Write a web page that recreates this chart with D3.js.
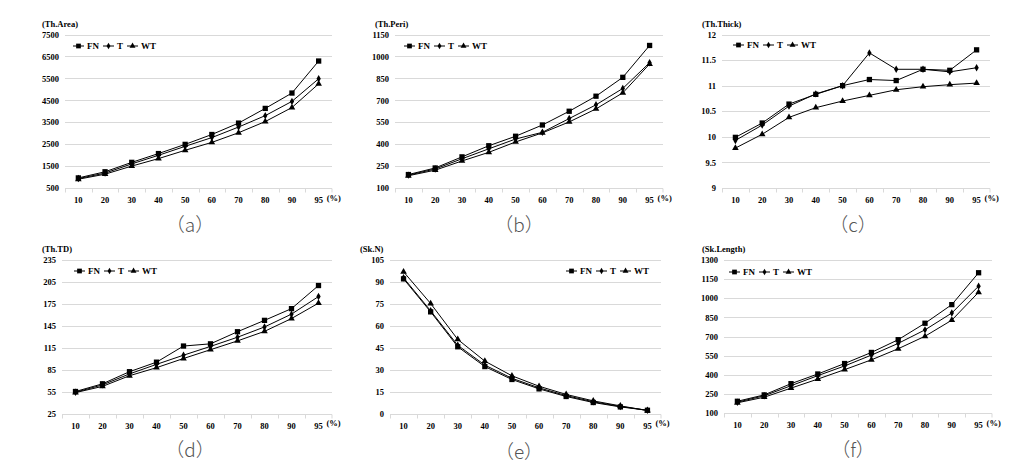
<!DOCTYPE html>
<html>
<head>
<meta charset="utf-8">
<script src="https://cdn.jsdelivr.net/npm/d3@7"></script>
<style>
  html, body { margin: 0; padding: 0; background: #fff; }
  svg { display: block; }
  .tick-label, .ttl, .leg { font-family: "Liberation Serif", "Times New Roman", serif; font-weight: bold; fill: #000; }
</style>
</head>
<body>
<svg id="chart" width="1028" height="467"></svg>
<script>
// ---------------- DATA ----------------
const categories = ["10", "20", "30", "40", "50", "60", "70", "80", "90", "95"];
const seriesNames = ["FN", "T", "WT"];

const areaFN = [960, 1240, 1670, 2070, 2490, 2940, 3460, 4130, 4830, 6290];
const areaT  = [930, 1180, 1600, 1990, 2400, 2800, 3280, 3800, 4450, 5480];
const areaWT = [900, 1130, 1500, 1840, 2220, 2580, 3020, 3530, 4170, 5250];
const areaTicks = [500, 1500, 2500, 3500, 4500, 5500, 6500, 7500];

const periFN = [192, 237, 313, 389, 454, 531, 625, 728, 857, 1075];
const periT  = [188, 230, 300, 368, 435, 481, 575, 669, 781, 957];
const periWT = [184, 222, 285, 344, 415, 477, 552, 641, 751, 948];
const periTicks = [100, 250, 400, 550, 700, 850, 1000, 1150];

const thickFN = [9.99, 10.27, 10.64, 10.83, 11.0, 11.12, 11.10, 11.32, 11.30, 11.70];
const thickT  = [9.93, 10.23, 10.60, 10.84, 11.0, 11.64, 11.32, 11.32, 11.27, 11.35];
const thickWT = [9.78, 10.05, 10.38, 10.57, 10.70, 10.81, 10.92, 10.98, 11.02, 11.05];
const thickTicks = [9, 9.5, 10, 10.5, 11, 11.5, 12];

const tdFN = [55, 65.5, 82, 95, 117, 120, 136.5, 152, 168, 199.5];
const tdT  = [54, 64, 79, 92, 104.5, 116.5, 129, 143, 160.5, 184.5];
const tdWT = [53.5, 62, 76.5, 87.5, 100, 112, 124, 137, 154.5, 175.5];
const tdTicks = [25, 55, 85, 115, 145, 175, 205, 235];

const skNFN = [91.8, 69.3, 45.5, 32, 23.2, 16.8, 11.6, 7.5, 4.5, 2.2];
const skNT  = [92.5, 70, 46.5, 33, 24, 17.5, 12.2, 8, 4.8, 2.2];
const skNWT = [96.6, 75, 50.5, 35.7, 25.7, 18.6, 13, 8.6, 5.2, 2];
const skNTicks = [0, 15, 30, 45, 60, 75, 90, 105];

const skLenFN = [192, 242, 330, 406, 488, 575, 675, 804, 950, 1200];
const skLenT  = [185, 235, 314, 393, 469, 554, 646, 752, 884, 1095];
const skLenWT = [180, 224, 295, 366, 440, 517, 604, 702, 828, 1047];
const skLenTicks = [100, 250, 400, 550, 700, 850, 1000, 1150, 1300];

const titles = ["(Th.Area)", "(Th.Peri)", "(Th.Thick)", "(Th.TD)", "(Sk.N)", "(Sk.Length)"];
const panelLabels = ["（a）", "（b）", "（c）", "（d）", "（e）", "（f）"];
const unitLabel = "(%)";

// ---------------- LAYOUT ----------------
const layouts = [
  { x0: 65,  x1: 332, y0: 34.5,  y1: 188,   titleX: 42,  titleY: 24,  legX: 73,  legY: 46,  labX: 190, labY: 225 },
  { x0: 395, x1: 663, y0: 34.5,  y1: 188,   titleX: 375, titleY: 24,  legX: 404, legY: 46,  labX: 519, labY: 225 },
  { x0: 722, x1: 990, y0: 34.5,  y1: 188,   titleX: 702, titleY: 24,  legX: 733, legY: 45,  labX: 853, labY: 225 },
  { x0: 62,  x1: 332, y0: 259.5, y1: 413.5, titleX: 42,  titleY: 249, legX: 74,  legY: 271, labX: 190, labY: 450 },
  { x0: 390, x1: 661, y0: 259.5, y1: 413.5, titleX: 360, titleY: 249, legX: 566, legY: 271, labX: 519, labY: 452 },
  { x0: 724, x1: 992, y0: 260,   y1: 413,   titleX: 702, titleY: 249, legX: 729, legY: 272, labX: 853, labY: 450 }
];

const panelSeries = [
  [areaFN, areaT, areaWT, areaTicks],
  [periFN, periT, periWT, periTicks],
  [thickFN, thickT, thickWT, thickTicks],
  [tdFN, tdT, tdWT, tdTicks],
  [skNFN, skNT, skNWT, skNTicks],
  [skLenFN, skLenT, skLenWT, skLenTicks]
];

const svg = d3.select("#chart");
const gridColor = "#d9d9d9";

const markerShapes = [d3.symbolSquare, d3.symbolDiamond, d3.symbolTriangle];
const markerSizes = [28, 16, 19];

function drawMarker(g, i, x, y, scale) {
  g.append("path")
    .attr("d", d3.symbol().type(markerShapes[i]).size(markerSizes[i] * (scale || 1))())
    .attr("transform", `translate(${x},${y})`)
    .attr("fill", "#000");
}

panelSeries.forEach((ps, pi) => {
  const L = layouts[pi];
  const ticks = ps[3];
  const g = svg.append("g");

  const x = d3.scaleBand().domain(categories).range([L.x0, L.x1]).paddingInner(0).paddingOuter(0);
  const y = d3.scaleLinear().domain([d3.min(ticks), d3.max(ticks)]).range([L.y1, L.y0]);
  const cx = c => x(c) + x.bandwidth() / 2;

  // gridlines (excluding bottom, drawn as axis)
  g.append("g").selectAll("line").data(ticks.filter(t => t !== d3.min(ticks))).join("line")
    .attr("x1", L.x0).attr("x2", L.x1)
    .attr("y1", d => Math.round(y(d)) + 0.5).attr("y2", d => Math.round(y(d)) + 0.5)
    .attr("stroke", gridColor).attr("stroke-width", 1);

  // y tick labels
  const yAxis = d3.axisLeft(y).tickValues(ticks).tickSize(0).tickPadding(6).tickFormat(d => String(d));
  const ya = g.append("g").attr("transform", `translate(${L.x0},0)`).call(yAxis);
  ya.select(".domain").remove();
  ya.selectAll("text").attr("class", "tick-label").style("font-size", "8.5px");

  // x axis
  const xAxisG = g.append("g").attr("transform", `translate(0,${Math.round(L.y1) + 0.5})`);
  xAxisG.append("line").attr("x1", L.x0).attr("x2", L.x1).attr("stroke", gridColor);
  xAxisG.selectAll("line.tk").data(categories.concat(["__end"])).join("line")
    .attr("class", "tk")
    .attr("x1", d => d === "__end" ? L.x1 : Math.round(x(d)) + 0.5)
    .attr("x2", d => d === "__end" ? L.x1 : Math.round(x(d)) + 0.5)
    .attr("y1", 0).attr("y2", 4).attr("stroke", gridColor);
  const xAxis = d3.axisBottom(x).tickSize(0).tickPadding(9);
  const xa = g.append("g").attr("transform", `translate(0,${L.y1})`).call(xAxis);
  xa.select(".domain").remove();
  xa.selectAll("text").attr("class", "tick-label").style("font-size", "8.5px");

  // unit label
  g.append("text").attr("class", "tick-label").style("font-size", "8.5px")
    .attr("x", cx("95") + 8).attr("y", L.y1 + 11).attr("dy", "0.2em")
    .text(unitLabel);

  // title
  g.append("text").attr("class", "ttl").style("font-size", "8.5px")
    .attr("x", L.titleX).attr("y", L.titleY).attr("dy", "0.35em").text(titles[pi]);

  // series
  [0, 1, 2].forEach(si => {
    const vals = ps[si];
    const line = d3.line().x((d, i) => cx(categories[i])).y(d => y(d));
    g.append("path").datum(vals).attr("d", line)
      .attr("fill", "none").attr("stroke", "#000").attr("stroke-width", 1);
  });
  [0, 1, 2].forEach(si => {
    ps[si].forEach((v, i) => drawMarker(g, si, cx(categories[i]), y(v)));
  });

  // legend
  const lg = g.append("g");
  let lx = L.legX;
  seriesNames.forEach((nm, si) => {
    lg.append("line").attr("x1", lx).attr("x2", lx + 11).attr("y1", L.legY).attr("y2", L.legY)
      .attr("stroke", "#000").attr("stroke-width", 1);
    drawMarker(lg, si, lx + 5.5, L.legY, 0.8);
    const t = lg.append("text").attr("class", "leg").style("font-size", "9px")
      .attr("x", lx + 14).attr("y", L.legY).attr("dy", "0.35em").text(nm);
    lx += 14 + t.node().getComputedTextLength() + 4;
  });

  // panel label
  g.append("text")
    .attr("x", L.labX).attr("y", L.labY).attr("dy", "0.35em")
    .attr("text-anchor", "middle")
    .style("font-family", "'Noto Sans CJK KR', 'Noto Sans CJK SC', sans-serif")
    .style("font-weight", "300").style("font-size", "19px").style("fill", "#555")
    .text(panelLabels[pi]);
});
</script>
</body>
</html>
